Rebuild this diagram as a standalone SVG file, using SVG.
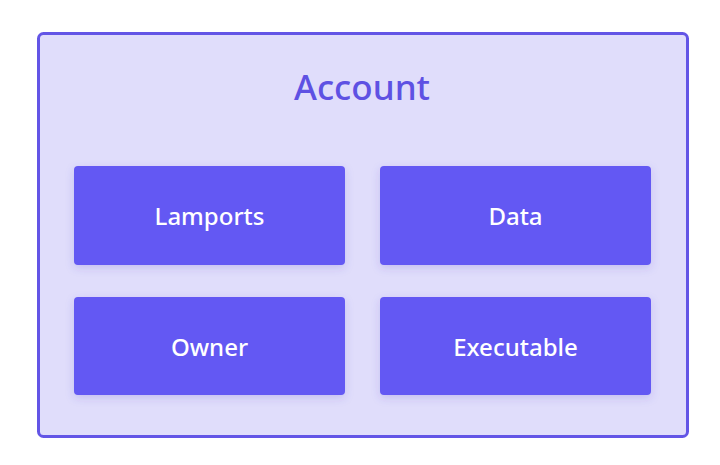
<svg xmlns="http://www.w3.org/2000/svg" width="720" height="465" viewBox="0 0 720 465">
<defs>
<filter id="sh" x="-10%" y="-10%" width="120%" height="130%">
<feDropShadow dx="0" dy="3" stdDeviation="4" flood-color="#4a3fc0" flood-opacity="0.18"/>
</filter>
<style>
.box{fill:#6358f3;filter:url(#sh)}
.lbl{font-family:"Noto Sans","DejaVu Sans",sans-serif;font-size:24px;font-weight:500;fill:#ffffff;text-anchor:middle}
</style>
</defs>
<rect width="720" height="465" fill="#ffffff"/>
<g id="account">
<rect x="38.5" y="33.5" width="649" height="403" rx="5" fill="#e0ddfb" stroke="#6355e6" stroke-width="3"/>
<text x="362" y="100" font-family="Noto Sans, DejaVu Sans, sans-serif" font-size="35" font-weight="500" fill="#5e51e3" text-anchor="middle">Account</text>
</g>
<g id="lamports">
<rect class="box" x="74" y="166" width="271" height="99" rx="4"/>
<text class="lbl" x="209.5" y="225">Lamports</text>
</g>
<g id="data">
<rect class="box" x="380" y="166" width="271" height="99" rx="4"/>
<text class="lbl" x="515.5" y="225">Data</text>
</g>
<g id="owner">
<rect class="box" x="74" y="297" width="271" height="98" rx="4"/>
<text class="lbl" x="209.5" y="356">Owner</text>
</g>
<g id="executable">
<rect class="box" x="380" y="297" width="271" height="98" rx="4"/>
<text class="lbl" x="515.5" y="356">Executable</text>
</g>
<g id="connectors"/>
</svg>
